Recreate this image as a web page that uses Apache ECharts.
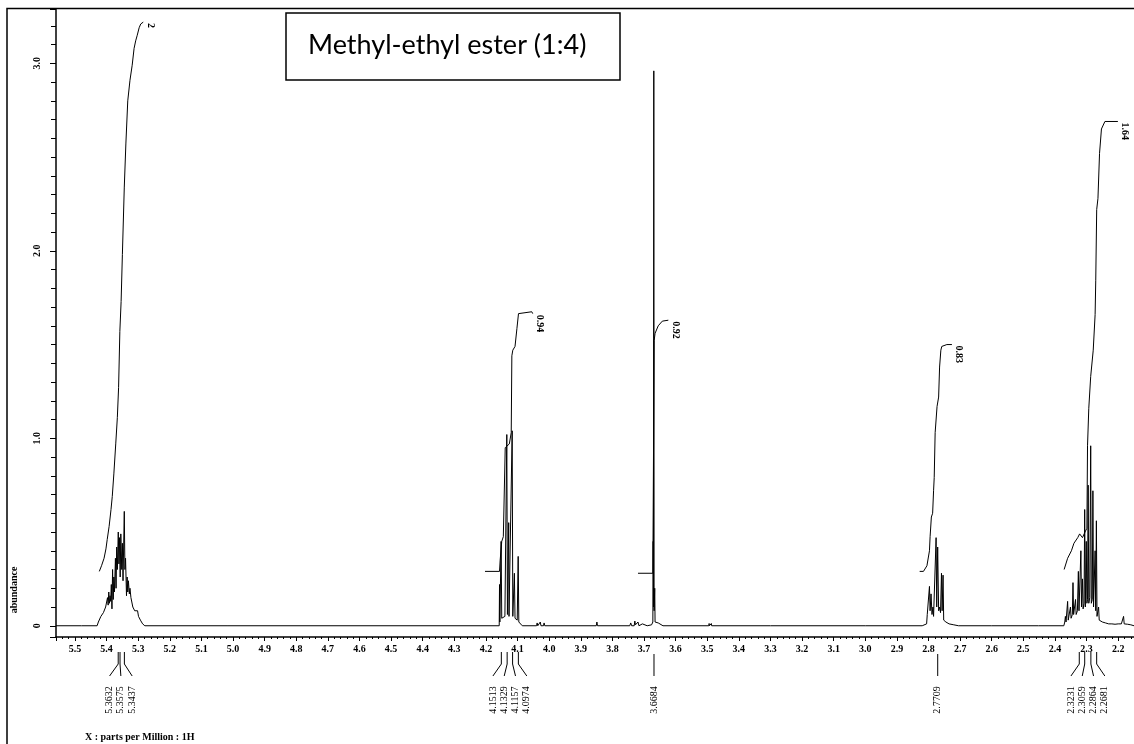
<!DOCTYPE html>
<html>
<head>
<meta charset="utf-8">
<script src="https://cdn.jsdelivr.net/npm/echarts@6/dist/echarts.min.js"></script>
<style>
html,body{margin:0;padding:0;background:#ffffff;}
#chart{width:1134px;height:744px;}
</style>
</head>
<body>
<div id="chart"></div>
<script>
// ---------------- data ----------------
const PPM_MIN = 2.15, PPM_MAX = 5.56;
const Y_MIN = -0.06, Y_MAX = 3.29;

const titleText = 'Methyl-ethyl ester (1:4)';
const xAxisTitle = 'X : parts per Million : 1H';
const yAxisTitle = 'abundance';

// spectrum pieces: [ppm, abundance]
const noiseA = [[5.479,0],[5.478,0.008],[5.477,0]];
const spec536 = [[5.430,0],[5.426,0.02],[5.422,0.03],[5.418,0.05],[5.414,0.04],[5.410,0.07],[5.406,0.06],[5.403,0.10],[5.400,0.09],[5.397,0.15],[5.395,0.11],[5.393,0.18],[5.391,0.12],[5.389,0.16],[5.387,0.13],[5.385,0.22],[5.383,0.09],[5.381,0.30],[5.379,0.14],[5.377,0.26],[5.375,0.18],[5.372,0.36],[5.370,0.20],[5.368,0.42],[5.366,0.30],[5.363,0.50],[5.361,0.33],[5.359,0.47],[5.357,0.26],[5.355,0.49],[5.352,0.30],[5.350,0.44],[5.348,0.24],[5.344,0.61],[5.342,0.30],[5.340,0.36],[5.337,0.16],[5.335,0.26],[5.333,0.18],[5.331,0.24],[5.328,0.17],[5.326,0.20],[5.323,0.15],[5.320,0.16],[5.317,0.10],[5.314,0.11],[5.311,0.08],[5.308,0.09],[5.305,0.07],[5.302,0.08],[5.299,0.05],[5.296,0.05],[5.293,0.03],[5.289,0.03],[5.286,0.01],[5.282,0.01],[5.279,0]];
const noiseB = [[5.016,0],[5.015,0.008],[5.014,0]];
const spec410 = [[4.165,0],[4.158,0],[4.157,0.22],[4.156,0.02],[4.153,0.02],[4.152,0.45],[4.150,0.04],[4.140,0.05],[4.136,0.05],[4.134,1.02],[4.132,0.06],[4.129,0.06],[4.128,0.55],[4.127,0.05],[4.121,0.06],[4.117,1.04],[4.115,0.05],[4.111,0.05],[4.110,0.28],[4.108,0.04],[4.101,0.03],[4.098,0.37],[4.096,0.02],[4.090,0.01],[4.085,0]];
const noiseC = [[4.040,0],[4.038,0.015],[4.036,0],[4.030,0],[4.028,0.02],[4.026,0],[4.018,0],[4.016,0.015],[4.014,0],[3.851,0],[3.849,0.02],[3.847,0],[3.745,0],[3.742,0.015],[3.739,0],[3.731,0],[3.729,0.025],[3.727,0.005],[3.722,0.01],[3.719,0.02],[3.716,0],[3.705,0.01],[3.700,0]];
const spec367 = [[3.690,0],[3.676,0.005],[3.672,0.02],[3.671,0.45],[3.670,0.10],[3.669,2.96],[3.668,0.08],[3.666,0.20],[3.665,0.02],[3.660,0.03],[3.655,0.015],[3.650,0.01],[3.640,0]];
const noiseD = [[3.495,0],[3.494,0.012],[3.493,0],[3.488,0],[3.487,0.012],[3.486,0],[3.300,0],[3.000,0]];
const spec277 = [[2.820,0],[2.815,0.01],[2.806,0.01],[2.804,0.06],[2.800,0.06],[2.797,0.21],[2.795,0.08],[2.792,0.17],[2.789,0.06],[2.786,0.10],[2.784,0.05],[2.776,0.47],[2.774,0.10],[2.771,0.42],[2.768,0.08],[2.765,0.10],[2.762,0.07],[2.759,0.28],[2.757,0.08],[2.754,0.27],[2.752,0.03],[2.745,0.02],[2.735,0.01],[2.720,0.005],[2.705,0]];
const noiseE = [[2.600,0],[2.452,0],[2.450,0.01],[2.448,0]];
const spec230 = [[2.372,0],[2.369,0.02],[2.367,0.05],[2.365,0.02],[2.362,0.03],[2.360,0.13],[2.358,0.03],[2.354,0.04],[2.351,0.10],[2.349,0.04],[2.345,0.06],[2.343,0.23],[2.341,0.06],[2.337,0.07],[2.335,0.14],[2.333,0.06],[2.329,0.08],[2.326,0.29],[2.324,0.08],[2.321,0.09],[2.318,0.40],[2.316,0.10],[2.313,0.25],[2.311,0.09],[2.308,0.12],[2.306,0.62],[2.304,0.10],[2.301,0.45],[2.299,0.12],[2.297,0.14],[2.295,0.75],[2.293,0.12],[2.290,0.15],[2.287,0.96],[2.285,0.12],[2.282,0.14],[2.280,0.72],[2.278,0.10],[2.275,0.10],[2.273,0.40],[2.271,0.08],[2.269,0.56],[2.267,0.05],[2.264,0.06],[2.262,0.10],[2.260,0.03],[2.255,0.03],[2.250,0.02],[2.240,0.015],[2.230,0.01],[2.220,0.01],[2.210,0.008],[2.200,0.01],[2.190,0.01],[2.185,0.01],[2.183,0.05],[2.181,0.01],[2.170,0.008],[2.160,0.005],[2.150,0]];

// integral curves: [ppm, height]
const int536 = [[5.423,0.29],[5.416,0.32],[5.408,0.36],[5.402,0.41],[5.398,0.46],[5.392,0.53],[5.386,0.62],[5.382,0.69],[5.377,0.81],[5.371,0.97],[5.366,1.11],[5.362,1.27],[5.358,1.57],[5.354,1.73],[5.350,1.98],[5.344,2.34],[5.339,2.57],[5.333,2.80],[5.326,2.91],[5.319,2.99],[5.313,3.08],[5.308,3.12],[5.303,3.15],[5.297,3.19],[5.292,3.21],[5.284,3.22]];
const int410 = [[4.203,0.29],[4.157,0.29],[4.155,0.35],[4.150,0.45],[4.145,0.475],[4.139,0.95],[4.134,0.95],[4.126,0.97],[4.120,1.03],[4.118,1.44],[4.115,1.47],[4.108,1.49],[4.102,1.585],[4.097,1.665],[4.092,1.675],[4.055,1.675],[4.052,1.665]];
const int367 = [[3.719,0.28],[3.672,0.28],[3.669,0.28],[3.668,1.52],[3.665,1.56],[3.655,1.60],[3.642,1.625],[3.623,1.63]];
const int277 = [[2.828,0.29],[2.816,0.29],[2.805,0.32],[2.797,0.40],[2.795,0.475],[2.791,0.58],[2.787,0.60],[2.784,0.72],[2.782,0.79],[2.779,1.03],[2.773,1.17],[2.768,1.22],[2.765,1.38],[2.761,1.47],[2.758,1.49],[2.752,1.495],[2.742,1.50],[2.726,1.50]];
const int230 = [[2.371,0.30],[2.360,0.36],[2.348,0.40],[2.340,0.44],[2.328,0.47],[2.322,0.49],[2.313,0.47],[2.305,0.50],[2.299,0.52],[2.297,0.96],[2.293,1.16],[2.287,1.33],[2.279,1.47],[2.273,1.66],[2.271,1.84],[2.268,2.22],[2.264,2.28],[2.259,2.52],[2.253,2.65],[2.242,2.69],[2.201,2.69]];
const integralValues = ['2', '0.94', '0.92', '0.83', '1.64'];

// picked peaks (ppm), grouped as in the reference
const peakGroups = [
  [5.3632, 5.3575, 5.3437],
  [4.1513, 4.1329, 4.1157, 4.0974],
  [3.6684],
  [2.7709],
  [2.3231, 2.3059, 2.2864, 2.2681]
];

// ---------------- chart ----------------
const spectrum = [[PPM_MAX, 0]].concat(noiseA, spec536, noiseB, spec410, noiseC, spec367, noiseD, spec277, noiseE, spec230);
const integrals = [int536, int410, int367, int277, int230];

const SERIF = '"Liberation Serif", "Times New Roman", serif';

function renderPeakLabels(params, api) {
  const g = peakGroups[params.dataIndex];
  const y0 = api.coord([g[0], Y_MIN])[1];
  const xs = g.map(p => api.coord([p, Y_MIN])[0]);
  const c = xs.reduce((a, b) => a + b, 0) / xs.length;
  const n = g.length;
  const children = [];
  g.forEach((p, i) => {
    const lx = c + (i - (n - 1) / 2) * 11.3;
    const pts = n > 1
      ? [[xs[i], y0 + 15], [xs[i], y0 + 27], [lx, y0 + 39]]
      : [[xs[i], y0 + 17], [xs[i], y0 + 39]];
    children.push({ type: 'polyline', shape: { points: pts }, style: { stroke: '#000', lineWidth: 1, fill: null } });
    children.push({
      type: 'text', x: lx, y: y0 + 63, rotation: Math.PI / 2,
      style: { text: p.toFixed(4), fill: '#000', font: '10px ' + SERIF, align: 'center', verticalAlign: 'middle', textAlign: 'center', textVerticalAlign: 'middle' }
    });
  });
  return { type: 'group', children };
}

function renderIntegralLabel(params, api) {
  const arr = integrals[params.dataIndex];
  const pt = api.coord(arr[arr.length - 1]);
  return {
    type: 'text', x: pt[0] + 7, y: pt[1] + 1, rotation: -Math.PI / 2,
    style: { text: integralValues[params.dataIndex], fill: '#000', font: 'bold 10px ' + SERIF, align: 'left', verticalAlign: 'middle', textAlign: 'left', textVerticalAlign: 'middle' }
  };
}

const chart = echarts.init(document.getElementById('chart'), null, { renderer: 'canvas' });

const series = [{
  type: 'line', data: spectrum, symbol: 'none', showSymbol: false, silent: true,
  lineStyle: { color: '#000', width: 1 }, animation: false, z: 3
}];
integrals.forEach(arr => series.push({
  type: 'line', data: arr, symbol: 'none', showSymbol: false, silent: true,
  lineStyle: { color: '#000', width: 1 }, animation: false, z: 3
}));
series.push({
  type: 'custom', coordinateSystem: 'cartesian2d', clip: false, silent: true, animation: false,
  data: peakGroups.map(g => [g[0], 0]), renderItem: renderPeakLabels, z: 4
});
series.push({
  type: 'custom', coordinateSystem: 'cartesian2d', clip: false, silent: true, animation: false,
  data: integrals.map(a => a[a.length - 1]), renderItem: renderIntegralLabel, z: 4
});

const option = {
  backgroundColor: '#ffffff',
  animation: false,
  title: {
    text: titleText, left: 308, top: 32, padding: 0,
    textStyle: { fontFamily: 'Lato, "Open Sans", sans-serif', fontSize: 27, fontWeight: 'normal', color: '#000' }
  },
  grid: { left: 56, top: 9, right: 0, bottom: 107, containLabel: false, outerBoundsMode: 'none' },
  xAxis: {
    type: 'value', min: PPM_MIN, max: PPM_MAX, inverse: true, splitNumber: 34,
    axisLine: { show: true, onZero: false, lineStyle: { color: '#000', width: 1.5 } },
    axisTick: { show: true, length: 4, lineStyle: { color: '#000', width: 1 } },
    minorTick: { show: true, splitNumber: 5, length: 2, lineStyle: { color: '#000', width: 1 } },
    splitLine: { show: false },
    axisLabel: {
      color: '#000', fontFamily: SERIF, fontWeight: 'bold', fontSize: 10, margin: 7,
      showMinLabel: false, showMaxLabel: false, hideOverlap: false,
      formatter: v => v.toFixed(1)
    }
  },
  yAxis: {
    type: 'value', min: Y_MIN, max: Y_MAX, splitNumber: 3,
    axisLine: { show: true, onZero: false, lineStyle: { color: '#000', width: 1.5 } },
    axisTick: { show: true, length: 6, lineStyle: { color: '#000', width: 1 } },
    minorTick: { show: true, splitNumber: 10, length: 5, lineStyle: { color: '#000', width: 1 } },
    splitLine: { show: false },
    axisLabel: {
      color: '#000', fontFamily: SERIF, fontWeight: 'bold', fontSize: 10, margin: 14, rotate: 90,
      showMinLabel: false, showMaxLabel: false, hideOverlap: false,
      formatter: v => (v === 0 ? '0' : v.toFixed(1))
    }
  },
  graphic: [
    { type: 'polyline', shape: { points: [[7, 744], [7, 8.5], [1134, 8.5]] }, style: { stroke: '#000', lineWidth: 1.5, fill: null }, z: 10 },
    { type: 'rect', shape: { x: 286, y: 13, width: 334, height: 67 }, style: { stroke: '#000', lineWidth: 1.5, fill: null }, z: 10 },
    { type: 'text', x: 14, y: 590, rotation: Math.PI / 2,
      style: { text: yAxisTitle, fill: '#000', font: 'bold 10px ' + SERIF, align: 'center', verticalAlign: 'middle', textAlign: 'center', textVerticalAlign: 'middle' } },
    { type: 'text', x: 85, y: 737,
      style: { text: xAxisTitle, fill: '#000', font: 'bold 10px ' + SERIF, align: 'left', verticalAlign: 'middle', textAlign: 'left', textVerticalAlign: 'middle' } }
  ],
  series: series
};
chart.setOption(option);
</script>
</body>
</html>
